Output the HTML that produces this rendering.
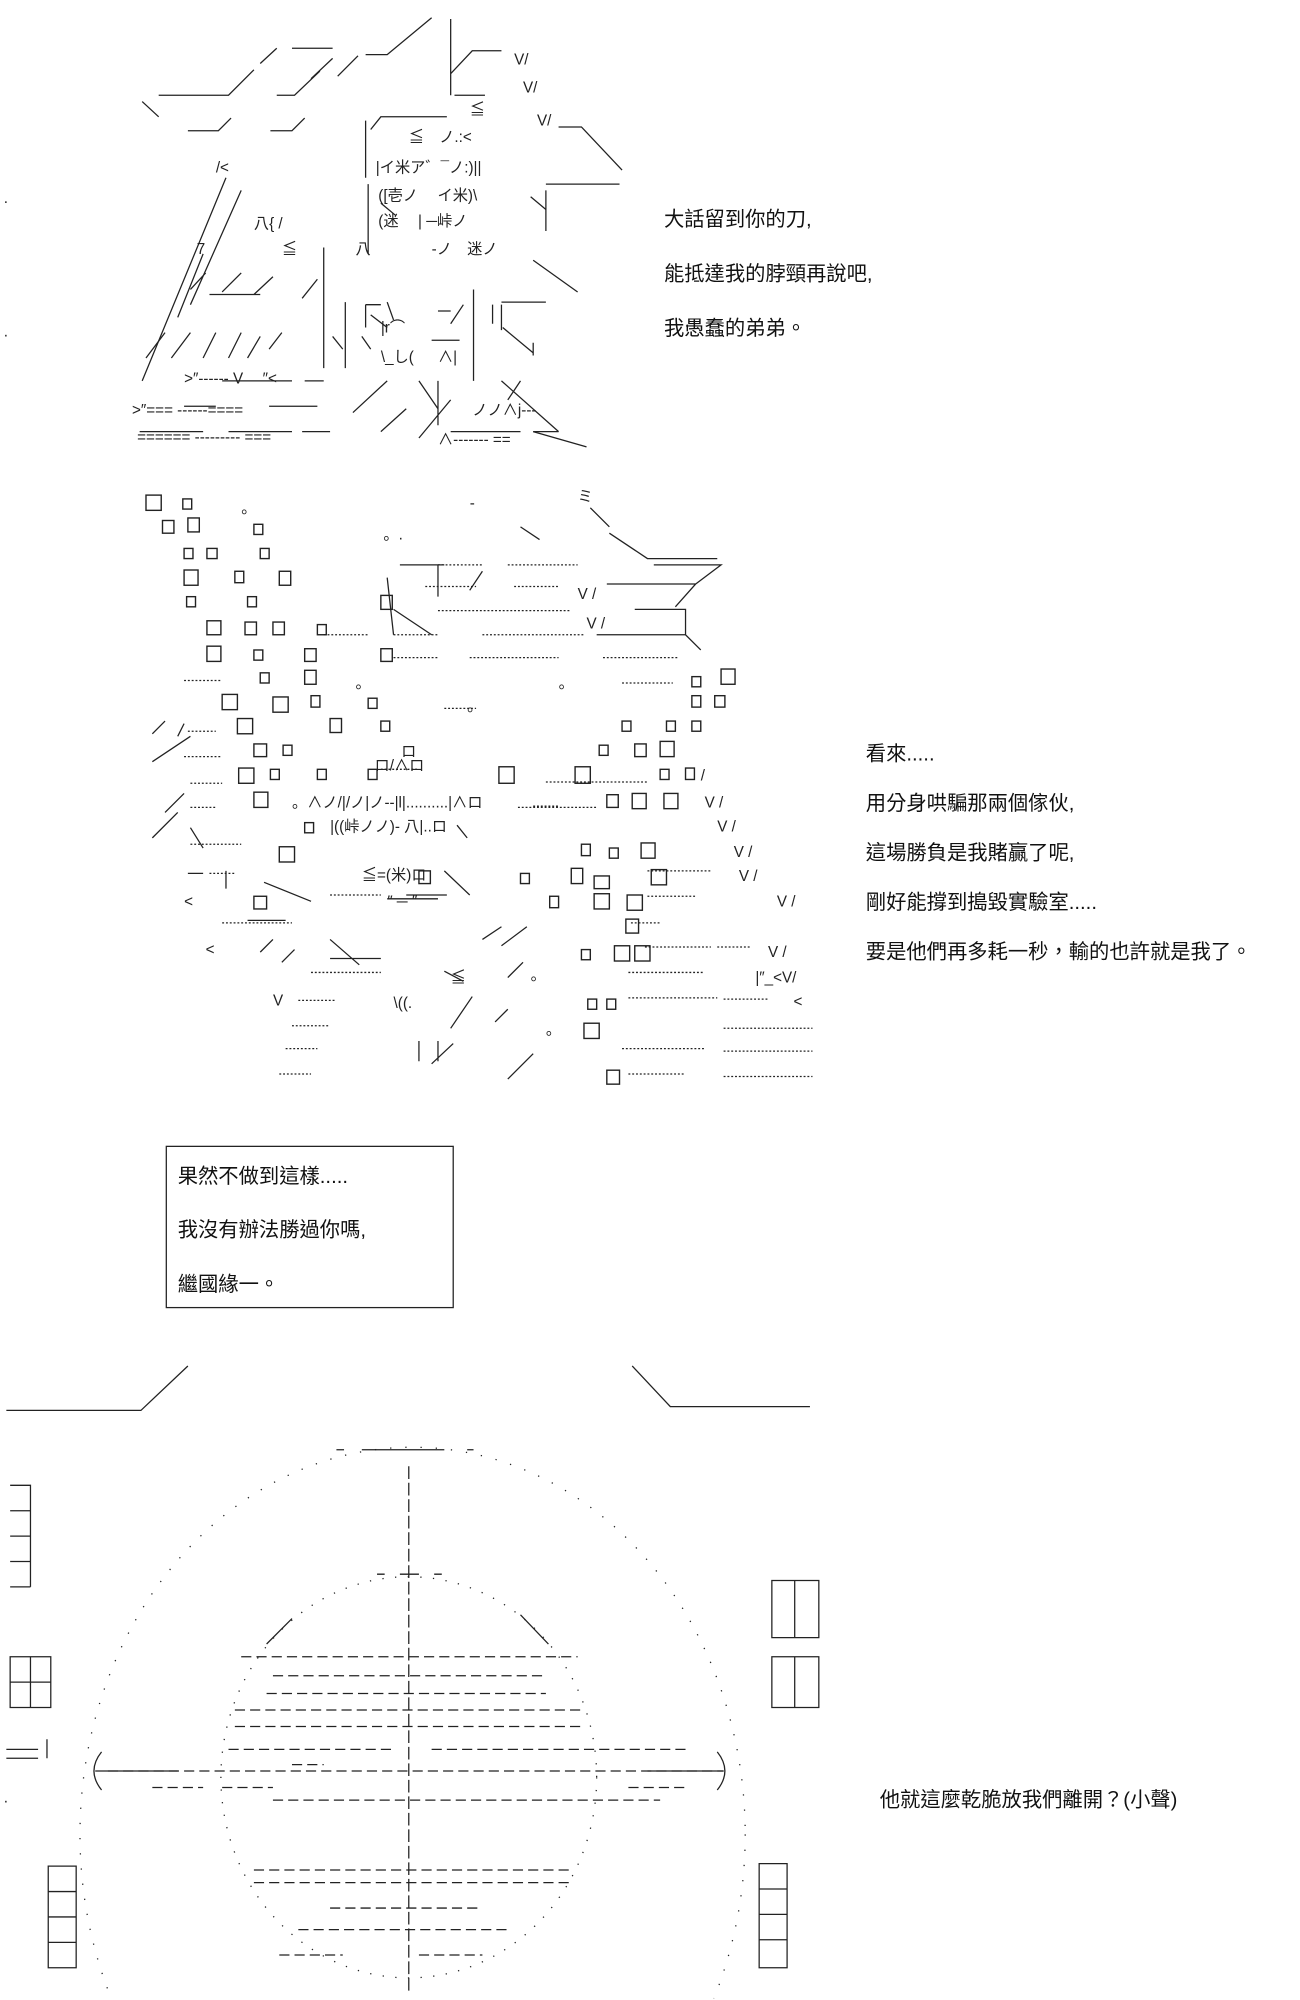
<!DOCTYPE html>
<html><head><meta charset="utf-8"><style>
html,body{margin:0;padding:0;background:#fff;width:1300px;height:2000px;overflow:hidden;}
svg{display:block}
text{font-family:"Liberation Sans","Noto Sans CJK TC",sans-serif;fill:#111;}
.a{font-family:"Liberation Sans","Noto Sans CJK JP",sans-serif;font-size:12px;fill:#222}
</style></head><body>
<svg width="1300" height="2000" viewBox="0 0 1300 2000" xmlns="http://www.w3.org/2000/svg" overflow="hidden">
<defs><clipPath id="c"><rect x="0" y="0" width="1024" height="1574"/></clipPath></defs>
<g transform="scale(1.2695)" clip-path="url(#c)">
<g fill="none" stroke="#222" stroke-width="1">
<!-- top art -->
<path d="M112,80 L125,92 M125,75 H180 L200,55 M205,50 L218,38 M230,38 H262 M245,62 L262,46 M218,75 H232 L252,56 M266,60 L282,44 M288,43 H305 L340,14 M355,15 V75 M355,58 L372,40 H395 M358,75 H382"/>
<path d="M148,103 H172 L182,93 M213,103 H230 L240,93 M288,95 V140 M292,102 L300,92 H352 M440,100 H458 L490,134 M430,145 H488 M430,150 V182 M290,145 V200"/>
<path d="M178,140 L112,300 M160,200 L140,250 M190,150 L150,240 M300,160 L312,170 M418,155 L430,165 M420,205 L455,230 M150,228 L162,215 M175,230 L190,215 M200,232 L215,218 M165,232 H205 M238,235 L250,220 M255,195 V290 M272,238 V290 M288,240 H300 M288,240 V258 M292,248 L305,258 M305,238 L310,252 M345,245 H355 M340,268 H362 M365,240 L355,255 M373,228 V300 M388,240 V255 M395,238 H430 M395,240 V260 M396,258 L420,278 M420,280 V270"/>
<path d="M115,282 L130,262 M135,282 L150,262 M160,282 L170,262 M180,282 L190,262 M205,265 L195,282 M212,275 L222,262 M262,265 L270,275 M285,265 L292,275 M305,300 L278,325 M300,340 L320,322 M330,300 L345,322 M345,300 V335 M355,315 L330,345 M395,300 L440,340 M420,340 L462,352 M410,300 L400,315"/>
<path d="M175,300 H230 M212,320 H250 M145,320 H170 M110,340 H160 M180,340 H230 M238,340 H260 M355,340 H410 M420,340 H440 M255,300 L240,300"/>
<!-- middle art squares -->
<g stroke-width="1.1">
<rect x="115" y="390" width="12" height="12"/><rect x="144" y="393" width="7" height="8"/><rect x="128" y="410" width="9" height="10"/><rect x="148" y="408" width="9" height="11"/><rect x="200" y="413" width="7" height="8"/>
<rect x="145" y="432" width="7" height="8"/><rect x="163" y="432" width="8" height="8"/><rect x="205" y="432" width="7" height="8"/><rect x="145" y="449" width="11" height="12"/><rect x="185" y="450" width="7" height="9"/><rect x="220" y="450" width="9" height="11"/>
<rect x="147" y="470" width="7" height="8"/><rect x="195" y="470" width="7" height="8"/><rect x="300" y="469" width="9" height="11"/><rect x="163" y="489" width="11" height="11"/><rect x="193" y="490" width="9" height="10"/><rect x="215" y="490" width="9" height="10"/><rect x="250" y="492" width="7" height="8"/>
<rect x="163" y="509" width="11" height="12"/><rect x="200" y="512" width="7" height="8"/><rect x="240" y="511" width="9" height="10"/><rect x="300" y="511" width="9" height="10"/><rect x="205" y="530" width="7" height="8"/><rect x="240" y="528" width="9" height="11"/><rect x="568" y="527" width="11" height="12"/><rect x="545" y="533" width="7" height="8"/>
<rect x="175" y="547" width="12" height="12"/><rect x="215" y="549" width="12" height="12"/><rect x="245" y="548" width="7" height="9"/><rect x="290" y="550" width="7" height="8"/><rect x="545" y="548" width="7" height="9"/><rect x="563" y="548" width="8" height="9"/>
<rect x="187" y="566" width="12" height="12"/><rect x="260" y="566" width="9" height="11"/><rect x="300" y="568" width="7" height="8"/><rect x="490" y="568" width="7" height="8"/><rect x="525" y="568" width="7" height="8"/><rect x="545" y="568" width="7" height="8"/>
<rect x="200" y="586" width="10" height="10"/><rect x="223" y="587" width="7" height="8"/><rect x="472" y="587" width="7" height="8"/><rect x="500" y="586" width="9" height="10"/><rect x="520" y="584" width="11" height="12"/>
<rect x="188" y="605" width="12" height="12"/><rect x="213" y="606" width="7" height="8"/><rect x="250" y="606" width="7" height="8"/><rect x="290" y="606" width="7" height="8"/><rect x="393" y="604" width="12" height="13"/><rect x="453" y="604" width="12" height="13"/><rect x="520" y="606" width="7" height="8"/><rect x="540" y="605" width="7" height="9"/>
<rect x="200" y="624" width="11" height="12"/><rect x="478" y="626" width="9" height="10"/><rect x="498" y="625" width="11" height="12"/><rect x="523" y="625" width="11" height="12"/>
<rect x="240" y="648" width="7" height="8"/><rect x="220" y="667" width="12" height="12"/><rect x="458" y="665" width="7" height="9"/><rect x="480" y="668" width="7" height="8"/><rect x="505" y="664" width="11" height="12"/>
<rect x="330" y="686" width="9" height="10"/><rect x="410" y="688" width="7" height="8"/><rect x="450" y="684" width="9" height="12"/><rect x="468" y="690" width="12" height="10"/><rect x="513" y="685" width="12" height="12"/>
<rect x="200" y="706" width="10" height="10"/><rect x="433" y="706" width="7" height="9"/><rect x="468" y="704" width="12" height="12"/><rect x="494" y="705" width="12" height="12"/><rect x="493" y="724" width="10" height="11"/>
<rect x="458" y="748" width="7" height="8"/><rect x="484" y="745" width="12" height="12"/><rect x="500" y="745" width="12" height="12"/><rect x="463" y="787" width="7" height="8"/><rect x="478" y="787" width="7" height="8"/><rect x="460" y="806" width="12" height="12"/><rect x="478" y="843" width="10" height="11"/>
</g>
<g stroke-dasharray="1.5 1.5">
<path d="M345,445 H380 M400,445 H455 M335,462 H375 M405,462 H440 M255,500 H290 M310,500 H345 M345,481 H450 M380,500 H460 M310,518 H345 M370,518 H440 M475,518 H535 M145,536 H175 M350,558 H375 M490,538 H530 M148,576 H170 M145,596 H175 M300,606 H330 M150,617 H175 M420,635 H440 M430,616 H510 M408,636 H470 M150,636 H170 M150,665 H190 M510,686 H560 M165,688 H185 M175,727 H230 M497,727 H520 M510,706 H548 M508,746 H560 M565,746 H592 M260,705 H300 M245,766 H300 M495,766 H555 M235,788 H265 M495,786 H565 M230,808 H260 M490,826 H555 M225,826 H250 M220,846 H245 M495,846 H540 M570,787 H605 M570,810 H640 M570,828 H640 M570,848 H640"/>
</g>
<path d="M315,445 H350 M410,415 L425,425 M465,400 L480,415 M480,420 L510,440 H565 M515,445 H568 L548,460 M478,460 H548 L532,478 M500,480 H540 V500 M470,500 H540 L552,512 M345,445 V470 M310,480 L340,500 M380,450 L370,465 M305,455 L310,500 M120,578 L130,568 M145,570 L140,580 M120,600 L150,580 M130,640 L145,625 M120,660 L140,640 M150,652 L160,668 M148,688 H160 M178,686 V700 M305,708 H345 M350,686 L370,705 M360,650 L368,660 M320,705 H352 M350,765 L365,773 M380,740 L395,730 M395,745 L415,730 M400,770 L412,758 M400,795 L390,805 M372,785 L355,810 M340,838 L357,822 M400,850 L420,830 M330,820 V836 M345,820 V836 M208,695 L245,710 M215,740 L205,750 M222,758 L232,748 M260,740 L283,760 M260,755 H300 M195,725 H225"/>
<!-- text box -->
<rect x="131" y="903" width="226" height="127"/>
<!-- bottom -->
<path d="M5,1111 H111 L148,1076 M498,1076 L528,1108 H638"/>
<path d="M285,1142 H350 M265,1142 H271 M368,1142 H373 M315,1240 H330 M297,1240 H303 M342,1240 H348"/>
<path d="M322,1155 V1568" stroke-dasharray="10 3"/>
<ellipse cx="325" cy="1445" rx="262" ry="305" stroke-dasharray="1 11"/>
<ellipse cx="322" cy="1400" rx="148" ry="158" stroke-dasharray="1 9"/>
<path d="M210,1295 L230,1275 M410,1272 L432,1295"/>
<g stroke-dasharray="8 4">
<path d="M190,1305 H455 M215,1320 H430 M210,1334 H430 M185,1347 H460 M185,1360 H460 M180,1378 H310 M340,1378 H540 M85,1395 H570 M215,1418 H520 M230,1390 H255 M120,1408 H160 M175,1408 H215 M495,1408 H540 M200,1473 H450 M200,1483 H450 M260,1503 H380 M235,1520 H400 M220,1540 H270 M330,1540 H380"/>
</g>
<path d="M80,1380 Q68,1395 80,1410 M565,1380 Q577,1395 565,1410 M75,1395 H140 M510,1395 H570"/>
<!-- side boxes -->
<path d="M8,1170 H24 V1250 M8,1190 H24 M8,1210 H24 M8,1230 H24 M8,1250 H24"/>
<path d="M8,1305 H40 V1345 H8 Z M24,1305 V1345 M8,1325 H40 M5,1378 H30 M5,1385 H30 M37,1370 V1385"/>
<path d="M38,1470 H60 V1550 H38 Z M38,1490 H60 M38,1510 H60 M38,1530 H60"/>
<path d="M608,1245 H645 V1290 H608 Z M626,1245 V1290 M608,1305 H645 V1345 H608 Z M626,1305 V1345"/>
<path d="M598,1468 H620 V1550 H598 Z M598,1488 H620 M598,1508 H620 M598,1528 H620"/>
</g>
<!-- ascii text pieces -->
<text class="a" x="405" y="51">V/</text><text class="a" x="412" y="73">V/</text><text class="a" x="423" y="99">V/</text>
<text class="a" x="322" y="112">≦　ノ.:&lt;</text><text class="a" x="370" y="90">≦</text>
<text class="a" x="170" y="136">/&lt;</text>
<text class="a" x="296" y="136">|イ米ア゛¯ノ:)||</text>
<text class="a" x="298" y="158">([壱ノ　 イ米)\</text>
<text class="a" x="298" y="178">(迷　 | ─峠ノ</text>
<text class="a" x="200" y="180">八{ /</text>
<text class="a" x="155" y="200">7</text><text class="a" x="222" y="200">≦</text><text class="a" x="280" y="200">八</text><text class="a" x="340" y="200">-ノ　迷ノ</text>
<text class="a" x="300" y="262">|r⌒</text><text class="a" x="300" y="285">\_し(</text><text class="a" x="345" y="285">∧|</text>
<text class="a" x="145" y="302">&gt;″------ V　 ″&lt;</text>
<text class="a" x="104" y="327">&gt;″=== ------====</text><text class="a" x="372" y="327">ノノ∧j---</text>
<text class="a" x="108" y="348">====== --------- ===</text><text class="a" x="345" y="350">∧------- ==</text>
<text class="a" x="190" y="404">。</text><text class="a" x="302" y="425">。.</text><text class="a" x="455" y="395">ミ</text><text class="a" x="370" y="400">-</text>
<text class="a" x="455" y="472">V /</text><text class="a" x="462" y="495">V /</text><text class="a" x="280" y="542">。</text><text class="a" x="368" y="560">。</text><text class="a" x="440" y="542">。</text>
<text class="a" x="295" y="607">ロ/∧ロ</text><text class="a" x="316" y="596">ロ</text>
<text class="a" x="552" y="615">/</text><text class="a" x="555" y="636">V /</text><text class="a" x="565" y="655">V /</text><text class="a" x="578" y="675">V /</text><text class="a" x="582" y="694">V /</text><text class="a" x="612" y="714">V /</text><text class="a" x="605" y="754">V /</text>
<text class="a" x="230" y="636">。∧ノ/|/ノ|ノ--|l|..........|∧ロ</text>
<text class="a" x="260" y="655">|((峠ノノ)- 八|..ロ</text>
<text class="a" x="285" y="693">≦=(米)ロ</text><text class="a" x="305" y="714">″ ─ ″</text>
<text class="a" x="145" y="714">&lt;</text><text class="a" x="162" y="752">&lt;</text><text class="a" x="215" y="792">V</text>
<text class="a" x="595" y="774">|″_&lt;V/</text><text class="a" x="625" y="793">&lt;</text>
<text class="a" x="418" y="772">。</text><text class="a" x="430" y="815">。</text><text class="a" x="310" y="794">\((.</text><text class="a" x="355" y="774">≦</text>
<text class="a" x="3" y="160">.</text><text class="a" x="3" y="265">.</text><text class="a" x="3" y="1420">.</text>
<!-- labels -->
<g font-size="16">
<text x="523" y="178">大話留到你的刀,</text>
<text x="523" y="221">能抵達我的脖頸再說吧,</text>
<text x="523" y="264">我愚蠢的弟弟。</text>
<text x="682" y="599">看來.....</text>
<text x="682" y="638">用分身哄騙那兩個傢伙,</text>
<text x="682" y="677">這場勝負是我賭贏了呢,</text>
<text x="682" y="716">剛好能撐到搗毀實驗室.....</text>
<text x="682" y="755">要是他們再多耗一秒，輸的也許就是我了。</text>
<text x="140" y="932">果然不做到這樣.....</text>
<text x="140" y="974">我沒有辦法勝過你嗎,</text>
<text x="140" y="1017">繼國緣一。</text>
<text x="693" y="1423">他就這麼乾脆放我們離開？(小聲)</text>
</g>
</g>
</svg>
</body></html>
